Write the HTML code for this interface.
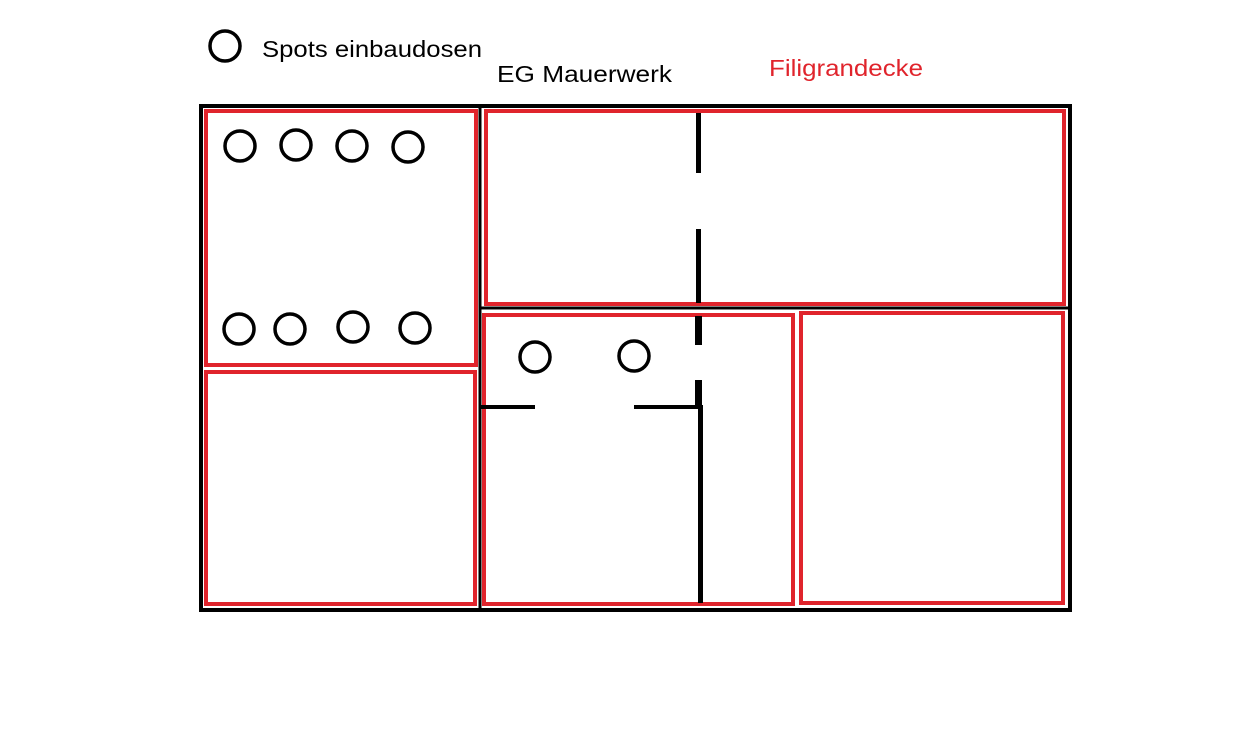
<!DOCTYPE html>
<html><head><meta charset="utf-8"><style>html,body{margin:0;padding:0;background:#fff}svg{display:block}</style></head>
<body>
<svg width="1243" height="745" viewBox="0 0 1243 745" xmlns="http://www.w3.org/2000/svg">
<rect width="1243" height="745" fill="#fff"/>
<g fill="none" stroke="#000">
<rect x="201" y="106" width="869" height="504" stroke-width="4"/>
<line x1="480" y1="106" x2="480" y2="610" stroke-width="3"/>
<line x1="480" y1="308" x2="1070" y2="308" stroke-width="3"/>
</g>
<g fill="none" stroke="#e0242c" stroke-width="4">
<rect x="206" y="111" width="270" height="254"/>
<rect x="206" y="372" width="269" height="232"/>
<rect x="486" y="111" width="578" height="193"/>
<rect x="484" y="315" width="309" height="289"/>
<rect x="801" y="313" width="262" height="290"/>
</g>
<g fill="#000">
<rect x="696" y="113" width="5" height="60"/>
<rect x="696" y="229" width="5" height="74"/>
<rect x="695" y="316" width="7" height="29"/>
<rect x="695" y="380" width="7" height="27"/>
<rect x="698" y="405" width="5" height="198"/>
<rect x="480" y="405" width="55" height="4"/>
<rect x="634" y="405" width="66" height="4"/>
</g>
<g fill="none" stroke="#000" stroke-width="3.5">
<circle cx="225" cy="46" r="15"/>
<circle cx="240" cy="146" r="15"/>
<circle cx="296" cy="145" r="15"/>
<circle cx="352" cy="146" r="15"/>
<circle cx="408" cy="147" r="15"/>
<circle cx="239" cy="329" r="15"/>
<circle cx="290" cy="329" r="15"/>
<circle cx="353" cy="327" r="15"/>
<circle cx="415" cy="328" r="15"/>
<circle cx="535" cy="357" r="15"/>
<circle cx="634" cy="356" r="15"/>
</g>
<g font-family="Liberation Sans, sans-serif" font-size="23">
<text x="262" y="57" fill="#000" textLength="220" lengthAdjust="spacingAndGlyphs">Spots einbaudosen</text>
<text x="497" y="82" fill="#000" textLength="175" lengthAdjust="spacingAndGlyphs">EG Mauerwerk</text>
<text x="769" y="76" fill="#e0242c" textLength="154" lengthAdjust="spacingAndGlyphs">Filigrandecke</text>
</g>
</svg>
</body></html>
